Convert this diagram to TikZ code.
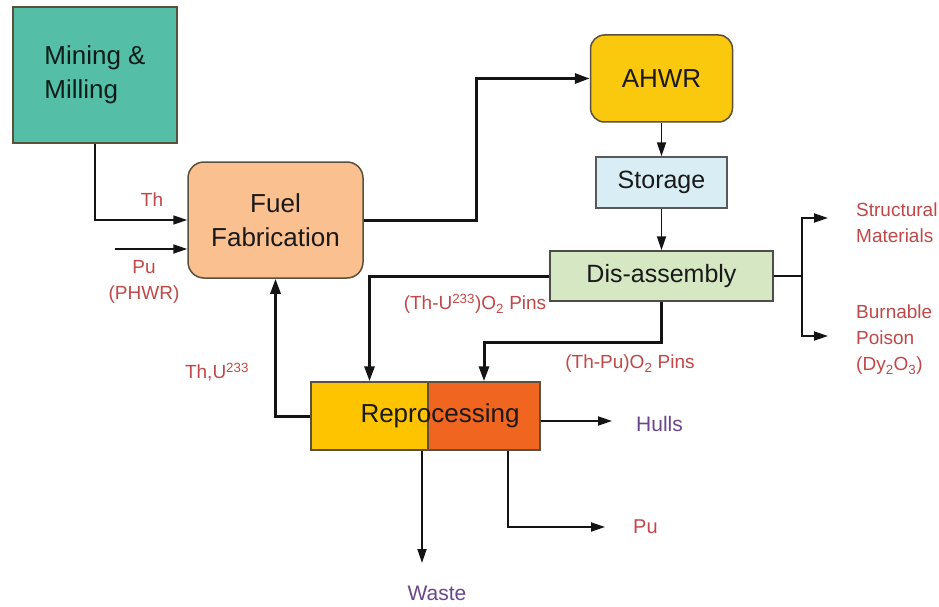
\documentclass[tikz,border=0pt]{standalone}
\usepackage{fontspec}
\setmainfont{Liberation Sans}
\usetikzlibrary{arrows.meta}
\definecolor{minecol}{RGB}{84,190,166}
\definecolor{fuelcol}{RGB}{250,192,143}
\definecolor{ahwrcol}{RGB}{250,200,12}
\definecolor{storcol}{RGB}{216,237,244}
\definecolor{discol}{RGB}{214,231,196}
\definecolor{repLcol}{RGB}{255,196,0}
\definecolor{repRcol}{RGB}{240,102,32}
\definecolor{edgecol}{RGB}{90,80,60}
\definecolor{labred}{RGB}{192,72,72}
\definecolor{labpurple}{RGB}{108,70,140}
\definecolor{txtcol}{RGB}{25,25,25}
\definecolor{linecol}{RGB}{20,20,20}
\begin{document}
\begin{tikzpicture}[x=1pt,y=-1pt,
  box/.style={draw=edgecol, line width=1.5pt, inner sep=0pt, align=center,
    font=\fontsize{26}{34}\selectfont, text=txtcol},
  lab/.style={font=\fontsize{19}{26}\selectfont, text=labred, align=left, inner sep=0pt},
  plab/.style={lab, text=labpurple, font=\fontsize{21}{26}\selectfont},
  plain/.style={draw=linecol, line width=1.8pt},
  heavy/.style={draw=linecol, line width=3pt, -{Triangle[length=15pt,width=10pt]}},
  light/.style={plain, -{Triangle[length=14pt,width=9pt]}}
]
\useasboundingbox (0,0) rectangle (939,607);
\fill[white] (0,0) rectangle (939,607);

% boxes
\node[box, fill=minecol, minimum width=164pt, minimum height=136pt, align=left,
      text=black!85!minecol] (mining) at (95,75) {Mining \&\\Milling};
\node[box, fill=fuelcol, minimum width=175pt, minimum height=116pt, rounded corners=16pt]
      (fuel) at (275.5,220) {Fuel\\Fabrication};
\node[box, fill=ahwrcol, minimum width=142pt, minimum height=87pt, rounded corners=14pt]
      (ahwr) at (661.5,78.5) {AHWR};
\node[box, fill=storcol, draw=gray!70!black, minimum width=131pt, minimum height=51pt,
      font=\fontsize{25}{30}\selectfont] (storage) at (661.5,182.5) {Storage};
\node[box, fill=discol, draw=gray!60!black, minimum width=223pt, minimum height=50pt,
      font=\fontsize{25}{30}\selectfont] (dis) at (661.5,276) {Dis-assembly};
\node[box, fill=repLcol, minimum width=117pt, minimum height=68pt] (reproL) at (369.5,416) {};
\node[box, fill=repRcol, minimum width=112pt, minimum height=68pt] (reproR) at (484,416) {};
\node[font=\fontsize{26}{34}\selectfont, text=txtcol, inner sep=0pt] (repro) at (440,416) {Reprocessing};

% free ends
\coordinate (pustart) at (115,249);
\coordinate (structtip) at (828,218);
\coordinate (burntip) at (828,336);
\coordinate (hullstip) at (612,421);
\coordinate (putip) at (605,527);
\coordinate (wastetip) at (422,563);

% connectors
\draw[light, line width=1.6pt] (mining.south) |- (fuel.west);
\draw[light] (pustart) -- (fuel.west |- pustart);
\draw[heavy] (fuel.east) -- ++(113,0) |- (ahwr.west);
\draw[light] (ahwr.south) -- (storage.north);
\draw[light] (storage.south) -- (dis.north);
\draw[heavy] (dis.west) -| (reproL.north);
\draw[heavy] (dis.south) -- ++(0,41) -| (reproR.north);
\draw[heavy] (reproL.west) -| (fuel.south);
\draw[plain] (dis.east) -- ++(28,0) coordinate (split);
\draw[light] (split) |- (structtip);
\draw[light] (split) |- (burntip);
\draw[light] ([yshift=-5pt]reproR.east) -- (hullstip);
\draw[light] ([xshift=24pt]reproR.south) |- (putip);
\draw[light] (reproL.south -| wastetip) -- (wastetip);

% labels
\node[lab] (thl) at (152,200) {Th};
\node[lab, align=center] (pul) at (144,282) {Pu\\(PHWR)};
\node[lab] (thu) at (217,372) {Th,U\textsuperscript{233}};
\node[lab] (thupins) at (475,304) {(Th-U\textsuperscript{233})O\textsubscript{2} Pins};
\node[lab] (thpupins) at (630,364) {(Th-Pu)O\textsubscript{2} Pins};
\node[lab, anchor=west] (struct) at (856,223) {Structural\\Materials};
\node[lab, anchor=west] (burn) at (856,340) {Burnable\\Poison\\(Dy\textsubscript{2}O\textsubscript{3})};
\node[plab, anchor=west] (hulls) at (636,424) {Hulls};
\node[lab, anchor=west, font=\fontsize{20}{26}\selectfont] (pul2) at (633,527) {Pu};
\node[plab] (waste) at (437,593) {Waste};
\end{tikzpicture}
\end{document}
